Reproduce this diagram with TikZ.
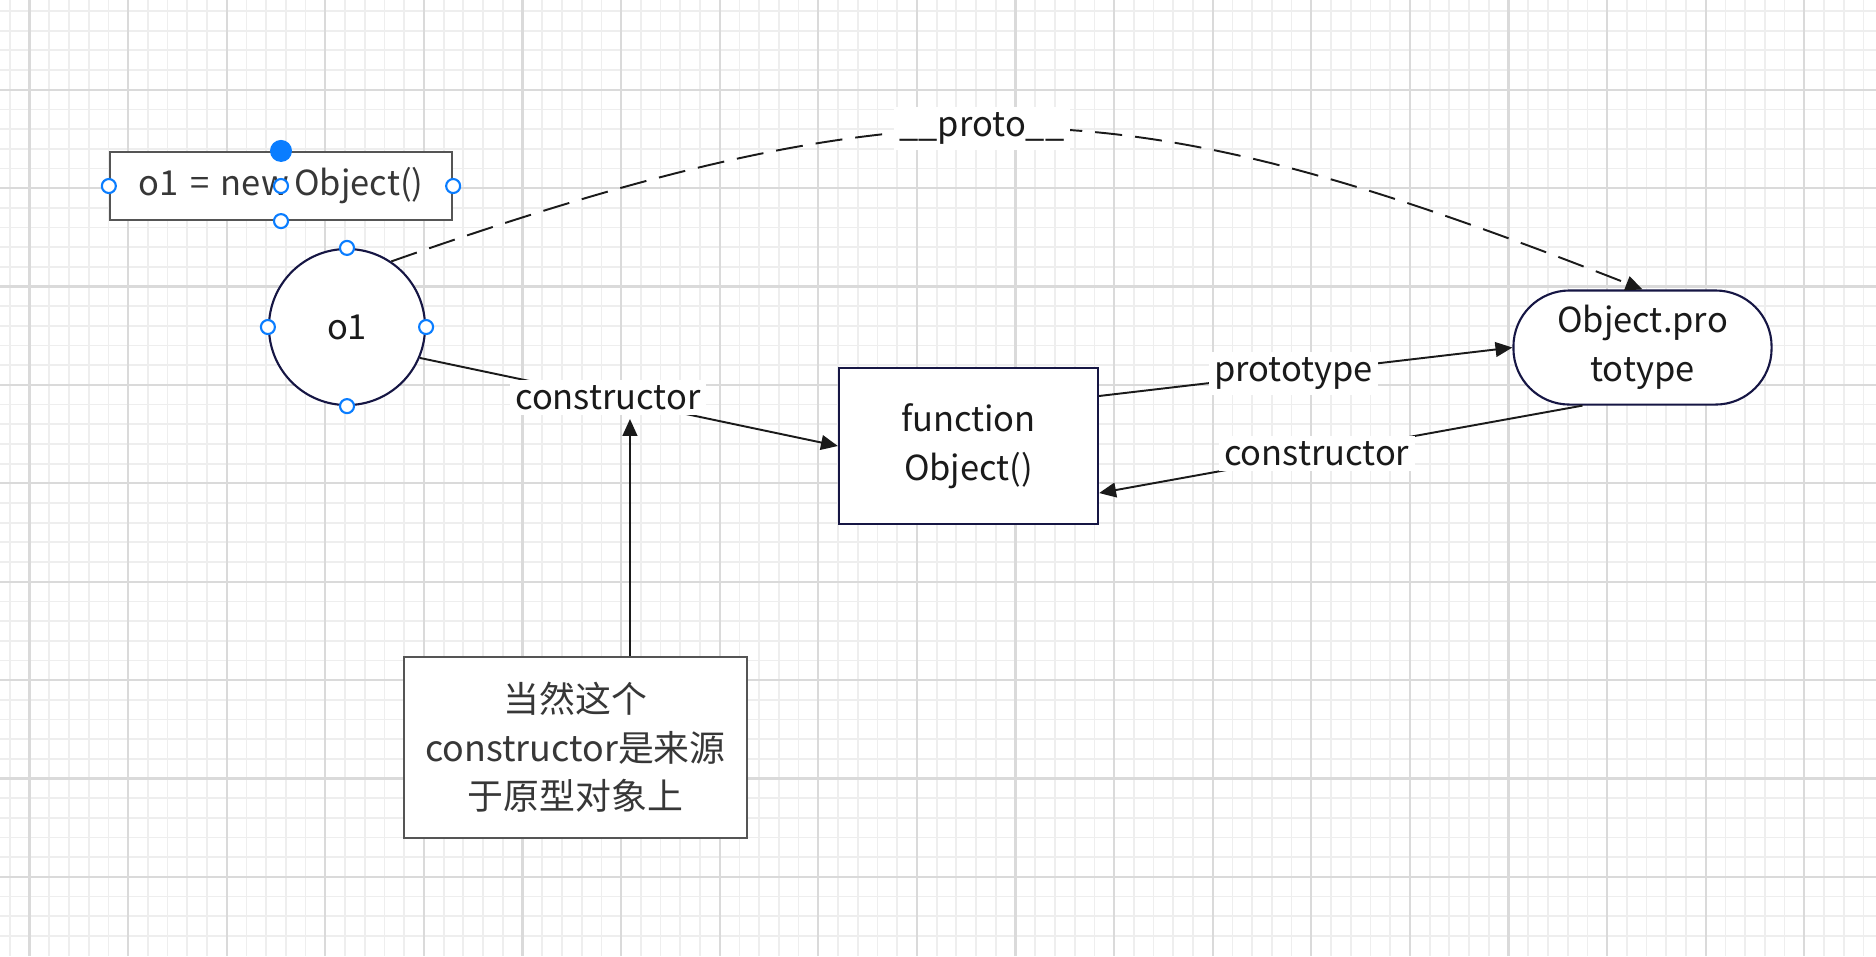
\documentclass[tikz,border=0pt]{standalone}
\usepackage{fontspec}
\setmainfont{Noto Sans CJK SC}
\usetikzlibrary{arrows.meta}
\definecolor{navy}{RGB}{22,22,68}
\definecolor{grayline}{RGB}{85,85,85}
\definecolor{graytext}{RGB}{55,55,55}
\definecolor{inktext}{RGB}{26,26,26}
\definecolor{selblue}{RGB}{10,125,255}
\definecolor{gridminor}{RGB}{238,238,238}
\definecolor{gridmajor}{RGB}{218,218,218}
\tikzset{>={Triangle[length=4.8pt,width=4.2pt]},font=\fontsize{9.8}{13.8}\selectfont,
  shapebox/.style={draw=navy,line width=0.6pt,fill=white,inner sep=0pt,align=center,text=inktext},
  notebox/.style={draw=grayline,line width=0.6pt,fill=white,inner sep=0pt,align=center,text=graytext},
  lbl/.style={fill=white,inner sep=1.5pt,text=inktext},
  handle/.style={circle,draw=selblue,fill=white,line width=0.6pt,inner sep=0pt,minimum size=0.14cm},
  grip/.style={circle,fill=selblue,inner sep=0pt,minimum size=0.22cm}}

\begin{document}
\begin{tikzpicture}[x=0.01cm,y=-0.01cm,line width=0.55pt,draw=inktext]
\useasboundingbox (0,0) rectangle (1876,956);
\fill[white] (0,0) rectangle (1876,956);
% grid
\foreach \i in {-1,...,93} \draw[gridminor,line width=0.5pt] (29.5+19.72*\i,0) -- (29.5+19.72*\i,956);
\foreach \i in {-4,...,43} \draw[gridminor,line width=0.5pt] (0,89.7+19.68*\i) -- (1876,89.7+19.68*\i);
\foreach \i in {0,...,18} \draw[gridmajor,line width=0.6pt] (29.5+98.6*\i,0) -- (29.5+98.6*\i,956);
\foreach \i in {0,...,8} \draw[gridmajor,line width=0.6pt] (0,89.7+98.4*\i) -- (1876,89.7+98.4*\i);

\node[notebox,minimum width=3.42cm,minimum height=0.68cm] (expr) at (281,186) {o1\,\,=\,\,new\,Object()};
\node[shapebox,circle,minimum size=1.56cm] (o1) at (347,327) {o1};
\node[shapebox,minimum width=2.59cm,minimum height=1.56cm] (func) at (968.5,446) {function\\Object()};
\node[shapebox,rounded corners=0.56cm,minimum width=2.58cm,minimum height=1.14cm] (proto) at (1642.5,347.5) {Object.pro\\totype};
\node[notebox,minimum width=3.43cm,minimum height=1.81cm,font=\fontsize{10.2}{13.8}\selectfont] (note) at (575.5,747.5) {当然这个\\constructor是来源\\于原型对象上};

\draw[->] (o1.-23) -- node[lbl,pos=0.45] (c1) {constructor} (func.west);
\coordinate (tip) at ([xshift=0.22cm,yshift=-0.03cm]c1.south);
\path[->] (note.north -| tip) edge (tip);
\draw[->] ([yshift=0.5cm]func.east) -- node[lbl,pos=0.47] (p1) {prototype} (proto.west);
\draw[->] ([xshift=-0.6cm]proto.south) -- node[lbl,pos=0.55] (c2) {constructor} ([yshift=-0.47cm]func.east);
\draw[->,dash pattern=on 7.7pt off 3.7pt] (o1.56) .. controls (942,68) and (1138,92) .. (proto.north)
  node[lbl,pos=0.452] (pr) {\_\_proto\_\_};

% selection handles
\foreach \a in {west,center,east,south} \node[handle] (expr-\a) at (expr.\a) {};
\node[grip] (expr-grip) at (expr.north) {};
\foreach \a in {north,south,west,east} \node[handle] (o1-\a) at (o1.\a) {};
\end{tikzpicture}
\end{document}
